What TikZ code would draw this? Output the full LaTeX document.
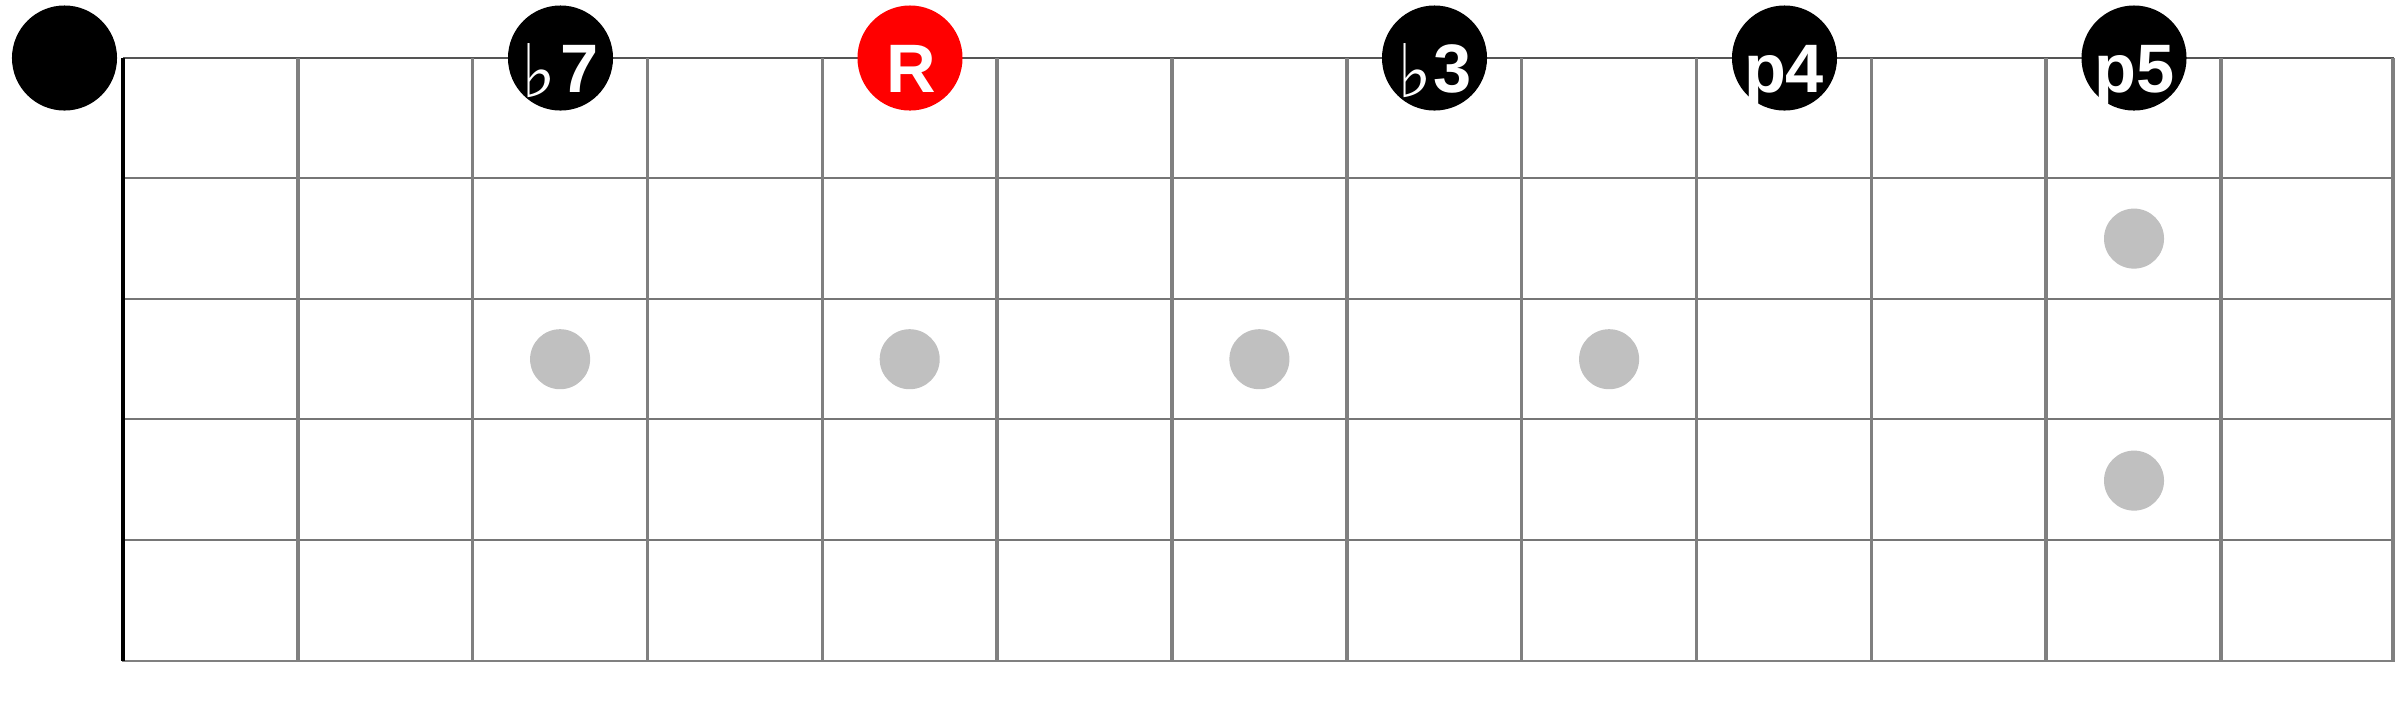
\documentclass[tikz,border=0pt]{standalone}
\usepackage{fontspec}
\usepackage{graphicx}
\setmainfont{Liberation Sans}
\newfontfamily\flatfont{DejaVu Sans}
\definecolor{fretgray}{RGB}{128,128,128}
\definecolor{stringgray}{RGB}{118,118,118}
\definecolor{topgray}{RGB}{85,85,85}
\definecolor{markgray}{RGB}{192,192,192}
\newcommand\flt{\raisebox{-0.5mm}{\flatfont\fontsize{21pt}{21pt}\selectfont\bfseries ♭}}
\begin{document}
\begin{tikzpicture}[x=0.01cm,y=-0.01cm,
  nutline/.style={line width=1.2pt, draw=black},
  fretline/.style={line width=1.0pt, draw=fretgray},
  stringline/.style={line width=0.55pt, draw=stringgray},
  topstring/.style={line width=0.5pt, draw=topgray},
  bottomline/.style={line width=0.75pt, draw=fretgray},
  marker/.style={circle, fill=markgray, minimum size=0.6cm, inner sep=0pt, draw=none},
  note/.style={circle, fill=black, minimum size=1.05cm, inner sep=0pt},
  rootnote/.style={note, fill=red},
  lbl/.style={text=white, anchor=base, inner sep=0pt, font=\bfseries\fontsize{19.5pt}{20pt}\selectfont}]
\useasboundingbox (0,0) rectangle (2400,720);
\fill[white] (0,0) rectangle (2400,720);
% coordinates
\foreach \i in {1,...,6} {
  \coordinate (sw\i) at (123,{58+120.4*(\i-1)});
  \coordinate (se\i) at (2394,{58+120.4*(\i-1)});
}
\foreach \k in {1,...,12} {
  \coordinate (ft\k) at ({123+174.83*\k},58);
  \coordinate (fb\k) at ({123+174.83*\k},660);
}
\coordinate (ft13) at (2393,58);
\coordinate (fb13) at (2393,660);
\coordinate (nt) at (123,58);
\coordinate (nb) at (123,661);
\coordinate (bl) at (121.5,661);
\coordinate (br) at (2394.5,661);
% strings
\draw[topstring] (sw1) -- (se1);
\foreach \i in {2,...,5} { \draw[stringline] (sw\i) -- (se\i); }
% frets
\foreach \k in {1,...,13} { \draw[fretline] (ft\k) -- (fb\k); }
\draw[bottomline] (bl) -- (br);
% nut
\draw[nutline] (nt) -- (nb);
% inlay markers
\node[marker] (m3) at (560.1,359.2) {};
\node[marker] (m5) at (909.7,359.2) {};
\node[marker] (m7) at (1259.4,359.2) {};
\node[marker] (m9) at (1609.1,359.2) {};
\node[marker] (m12a) at (2134,238.6) {};
\node[marker] (m12b) at (2134,480.6) {};
% notes
\node[note] (open) at (64.5,58) {};
\node[note] (nb7) at (560.5,58) {};
\node[rootnote] (nR) at (910,58) {};
\node[note] (nb3) at (1434.5,58) {};
\node[note] (np4) at (1784.5,58) {};
\node[note] (np5) at (2134,58) {};
% labels
\node[lbl] (tb7) at (560,92.5) {\flt\hspace{0.4mm}7};
\node[lbl] (tR) at (911,92.5) {R};
\node[lbl] (tb3) at (1434.5,92.5) {\flt\hspace{0.2mm}3};
\node[lbl] (tp4) at (1784,92.5) {p4};
\node[lbl] (tp5) at (2134.5,92.5) {p5};
\end{tikzpicture}
\end{document}
